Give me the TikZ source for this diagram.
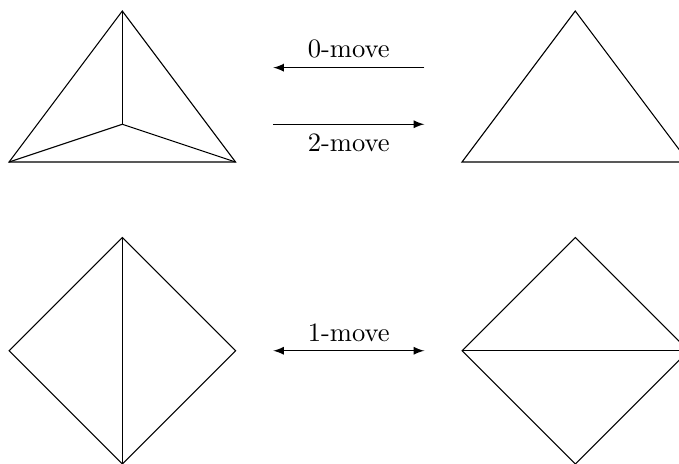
\documentclass[tikz,border=0pt]{standalone}
\usetikzlibrary{arrows,positioning}
\tikzset{
  edge/.style={draw,line join=miter},
  move/.style={latex-},
  movelabel/.style={font=\normalsize}
}
\begin{document}
\begin{tikzpicture}
  \useasboundingbox (-0.12,-3.987) rectangle (8.874,2.146);
  \clip (-0.12,-3.987) rectangle (8.874,2.146);

  % triangle with an inner vertex
  \coordinate (a1) at (0,0);
  \coordinate (a2) at (3,0);
  \coordinate (a3) at (1.5,2);
  \coordinate (a0) at (1.5,0.5);
  \draw[edge] (a1) -- (a2) -- (a3) -- cycle;
  \draw[edge] (a0) -- (a1);
  \draw[edge] (a0) -- (a2);
  \draw[edge] (a0) -- (a3);

  % plain triangle
  \coordinate (b1) at (6,0);
  \coordinate (b2) at (9,0);
  \coordinate (b3) at (7.5,2);
  \draw[edge] (b1) -- (b2) -- (b3) -- cycle;

  % square with vertical diagonal
  \coordinate (c1) at (1.5,-1);
  \coordinate (c2) at (0,-2.5);
  \coordinate (c3) at (1.5,-4);
  \coordinate (c4) at (3,-2.5);
  \draw[edge] (c1) -- (c2) -- (c3) -- (c4) -- cycle;
  \draw[edge] (c1) -- (c3);

  % square with horizontal diagonal
  \coordinate (d1) at (7.5,-1);
  \coordinate (d2) at (6,-2.5);
  \coordinate (d3) at (7.5,-4);
  \coordinate (d4) at (9,-2.5);
  \draw[edge] (d1) -- (d2) -- (d3) -- (d4) -- cycle;
  \draw[edge] (d2) -- (d4);

  % moves
  \coordinate (m0l) at (3.5,1.25);
  \coordinate (m0r) at (5.5,1.25);
  \coordinate (m2l) at (3.5,0.5);
  \coordinate (m2r) at (5.5,0.5);
  \coordinate (m1l) at (3.5,-2.5);
  \coordinate (m1r) at (5.5,-2.5);
  \draw[-latex] (m0r) -- node[above,movelabel] (zero) {0-move} (m0l);
  \draw[-latex] (m2l) -- node[below,movelabel] (two) {2-move} (m2r);
  \draw[latex-latex] (m1l) -- node[above,movelabel] (one) {1-move} (m1r);
\end{tikzpicture}
\end{document}
